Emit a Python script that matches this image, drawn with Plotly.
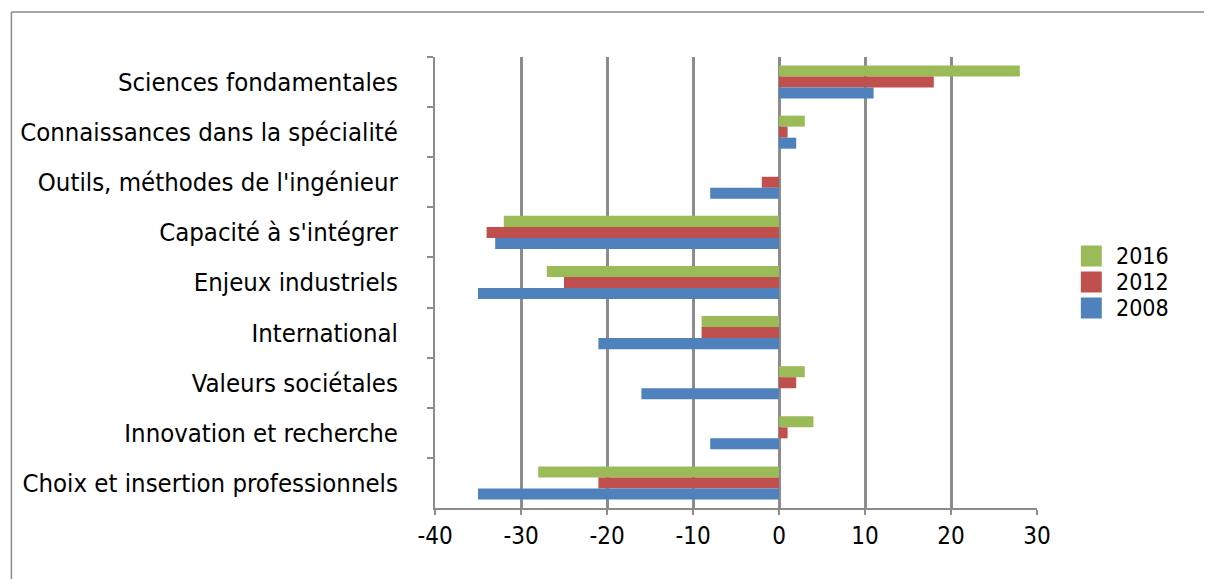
import plotly.graph_objects as go

categories = [
    "Sciences fondamentales",
    "Connaissances dans la spécialité",
    "Outils, méthodes de l'ingénieur",
    "Capacité à s'intégrer",
    "Enjeux industriels",
    "International",
    "Valeurs sociétales",
    "Innovation et recherche",
    "Choix et insertion professionnels",
]
series_names = ["2016", "2012", "2008"]
values_2016 = [28, 3, 0, -32, -27, -9, 3, 4, -28]
values_2012 = [18, 1, -2, -34, -25, -9, 2, 1, -21]
values_2008 = [11, 2, -8, -33, -35, -21, -16, -8, -35]
colors = ["#9BBB59", "#C0504D", "#4F81BD"]
x_ticks = [-40, -30, -20, -10, 0, 10, 20, 30]

FONT = "DejaVu Sans Condensed"

# page body has an 8px margin; work in screen pixels and convert
OFF = 8
W, H = 1212 - OFF, 579 - OFF
SL, SR, ST, SB = 433, 1037, 57, 508  # plot area in screen pixels
L, R, T, B = SL - OFF, SR - OFF, ST - OFF, SB - OFF


def px(sx):
    return (sx - SL) / (SR - SL)


def py(sy):
    return (SB - sy) / (SB - ST)


fig = go.Figure()
for name, vals, col in zip(series_names, [values_2016, values_2012, values_2008], colors):
    fig.add_trace(go.Bar(
        y=categories, x=vals, name=name, orientation="h",
        marker=dict(color=col, line=dict(width=0)),
        showlegend=False,
    ))

fig.update_layout(
    width=W, height=H,
    margin=dict(l=L, r=W - R, t=T, b=H - B, pad=0),
    barmode="group", bargap=0.34, bargroupgap=0,
    paper_bgcolor="white", plot_bgcolor="white",
    font=dict(family=FONT, size=25, color="#000000"),
    showlegend=False,
    xaxis=dict(
        range=[-40, 30], tickvals=x_ticks, ticktext=[str(v) for v in x_ticks],
        showgrid=True, gridcolor="#8c8c8c", gridwidth=2.5,
        zeroline=False, showline=True, linecolor="#8c8c8c", linewidth=2,
        ticks="outside", ticklen=5, tickcolor="#8c8c8c", tickwidth=2,
        tickfont=dict(family=FONT, size=24, color="#000000"),
        fixedrange=True,
    ),
    yaxis=dict(
        type="category", autorange="reversed",
        showgrid=False, zeroline=False, showline=True, linecolor="#8c8c8c", linewidth=2,
        ticks="outside", tickson="boundaries", ticklen=6, tickcolor="#8c8c8c", tickwidth=2,
        ticklabelstandoff=30,
        tickfont=dict(family=FONT, size=25.5, color="#000000"),
        fixedrange=True,
    ),
)

# outer frame (top and left edges visible)
x_left = px(8)
y_top = py(12)
fig.add_shape(type="line", xref="paper", yref="paper", x0=x_left, x1=px(1230),
              y0=y_top, y1=y_top, line=dict(color="#8a8a8a", width=1.5))
fig.add_shape(type="line", xref="paper", yref="paper", x0=x_left, x1=x_left,
              y0=y_top, y1=py(600), line=dict(color="#8a8a8a", width=1.5))

# legend drawn manually (large square keys)
legend_centers = [256, 282, 308]
for name, col, cy in zip(series_names, colors, legend_centers):
    fig.add_shape(type="rect", xref="paper", yref="paper",
                  x0=px(1081), x1=px(1102), y0=py(cy - 10.5), y1=py(cy + 10.5),
                  fillcolor=col, line=dict(width=0))
    fig.add_annotation(x=px(1114), y=py(cy), xref="paper", yref="paper",
                       text=name, showarrow=False, xanchor="left", yanchor="middle",
                       height=24, valign="middle",
                       font=dict(family=FONT, size=23, color="#000000"))

fig.write_html("out.html")
